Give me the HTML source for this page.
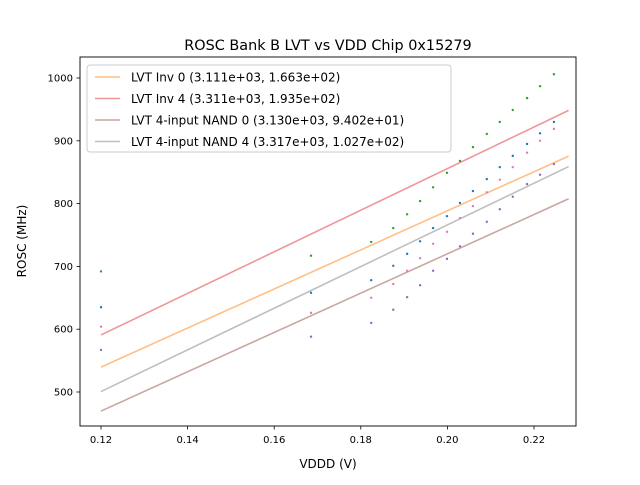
<!DOCTYPE html>
<html><head><meta charset="utf-8"><style>body{margin:0;background:#fff}svg{font-family:"DejaVu Sans","Liberation Sans",sans-serif}</style></head>
<body>
<svg id="chart" width="640" height="480">
<rect width="640" height="480" fill="#fff"/>
<text x="328" y="50" text-anchor="middle" font-size="14.4">ROSC Bank B LVT vs VDD Chip 0x15279</text>
<g id="grid"></g>
<g id="marks"></g>
<rect x="80" y="57" width="496" height="369" fill="none" stroke="#000" stroke-width="0.9"/>
<text x="328" y="468" text-anchor="middle" font-size="12">VDDD (V)</text>
<text transform="translate(26,241) rotate(-90)" text-anchor="middle" font-size="12">ROSC (MHz)</text>
<g id="legend">
<rect x="87" y="65" width="364" height="87" rx="3" fill="#fff" fill-opacity="0.8" stroke="#ccc"/>
</g>
</svg>
<script>
const xVals=[0.12,0.1685,0.1824,0.1875,0.1907,0.1937,0.1967,0.1999,0.2029,0.2059,0.2091,0.2121,0.2151,0.2184,0.2214,0.2246];
const greenVals=[692,717,739,761,783,804,826,849,868,890,911,930,949,968,987,1006];
const blueVals=[635,658,678,701,720,740,761,780,801,820,839,858,876,895,912,930];
const pinkVals=[604,626,650,672,693,713,736,755,777,796,818,838,858,881,900,919];
const purpleVals=[567,588,610,631,651,670,693,712,732,752,771,791,811,831,846,863];
const fitSlopes=[3111,3311,3130,3317];
const fitIntercepts=[166.3,193.5,94.02,102.7];
const fitLabels=["LVT Inv 0 (3.111e+03, 1.663e+02)","LVT Inv 4 (3.311e+03, 1.935e+02)","LVT 4-input NAND 0 (3.130e+03, 9.402e+01)","LVT 4-input NAND 4 (3.317e+03, 1.027e+02)"];
const xTicks=[0.12,0.14,0.16,0.18,0.20,0.22];
const yTicks=[500,600,700,800,900,1000];
const fitRange=[0.12,0.228];

const NS="http://www.w3.org/2000/svg";
const xs=v=>101+(v-0.12)*4330;
const ys=v=>392-(v-500)*0.628;
function mk(tag,attrs,parent){const e=document.createElementNS(NS,tag);for(const k in attrs)e.setAttribute(k,attrs[k]);parent.appendChild(e);return e;}
const grid=document.getElementById('grid'),marks=document.getElementById('marks'),leg=document.getElementById('legend');
xTicks.forEach(t=>{const x=xs(t);
 const l=mk('line',{x1:x,x2:x,y1:426,y2:429.5,stroke:'#000','stroke-width':0.8},grid);
 
 
 const tx=mk('text',{x:x,y:443,'text-anchor':'middle','font-size':10},grid);tx.textContent=t.toFixed(2);
 
 });
yTicks.forEach(t=>{const y=ys(t);
 const l=mk('line',{x1:76.5,x2:80,y1:y,y2:y,stroke:'#000','stroke-width':0.8},grid);
 
 
 const tx=mk('text',{x:73,y:y+3.5,'text-anchor':'end','font-size':10},grid);tx.textContent=t;
 
 });
const lineColors=['#ffbf86','#f0959a','#c9a7a2','#bfbfbf'];
fitSlopes.forEach((m,i)=>{const b=fitIntercepts[i];
 const l=mk('line',{x1:xs(fitRange[0]),y1:ys(m*fitRange[0]+b),x2:xs(fitRange[1]),y2:ys(m*fitRange[1]+b),stroke:lineColors[i],'stroke-width':1.6},marks);
 
 
 const y=77+i*21.5;
 const ll=mk('line',{x1:95,x2:120,y1:y,y2:y,stroke:lineColors[i],'stroke-width':1.6},leg);
 
 
 const tx=mk('text',{x:131,y:y+4.5,'font-size':12},leg);tx.textContent=fitLabels[i];
 
 });
[[greenVals,'#2ca02c'],[blueVals,'#1f77b4'],[pinkVals,'#e377c2'],[purpleVals,'#9467bd']].forEach(([arr,c])=>{
 arr.forEach((v,i)=>{const d=mk('circle',{cx:xs(xVals[i]),cy:ys(v),r:1.2,fill:c},marks);
 
 });});
</script>
</body></html>
